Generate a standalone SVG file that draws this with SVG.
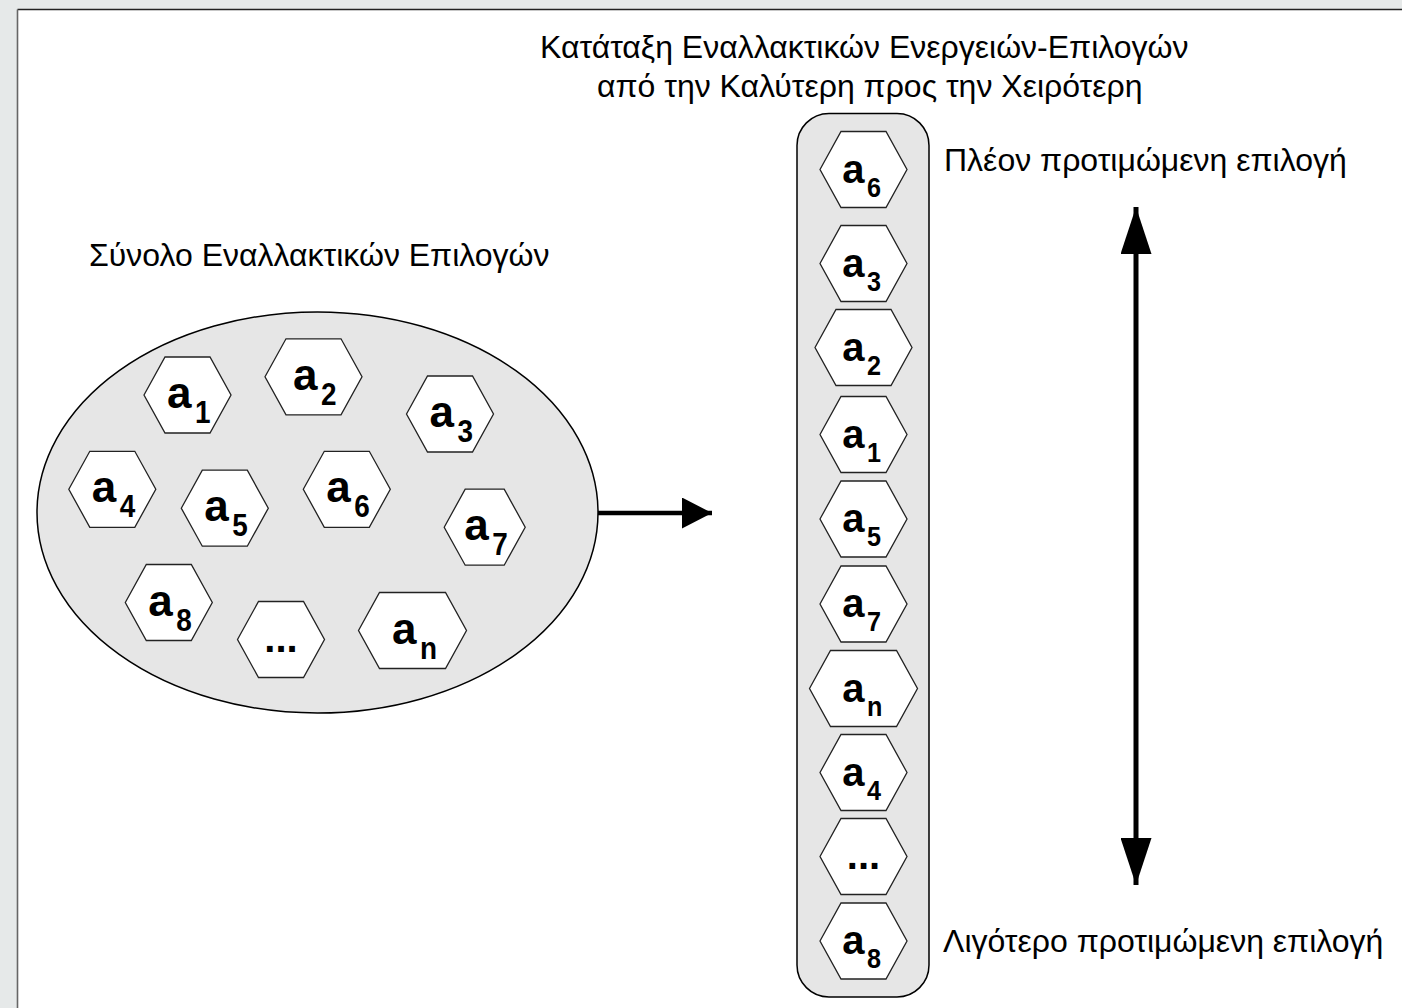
<svg xmlns="http://www.w3.org/2000/svg" width="1402" height="1008" viewBox="0 0 1402 1008">
  <style>
    .label { font-family: "Liberation Sans", Arial, sans-serif; font-size: 32px; fill: #000; }
    .hex { fill: #fff; stroke: #222; stroke-width: 1.3; }
    .sym, .sub, .dots { font-family: "Liberation Sans", Arial, sans-serif; font-weight: bold; fill: #000; }
    .sym { text-anchor: end; }
    .dots { text-anchor: middle; font-size: 40px; }
    .big .sym { font-size: 44px; }
    .col .sym { font-size: 40px; }
    .big .sub { font-size: 31px; }
    .col .sub { font-size: 28px; }
    .conn { stroke: #000; fill: none; }
  </style>
  <defs>
    <!-- hexagon outlines, centred on the origin -->
    <polygon id="hex81" points="-40.5,0 -19.5,-38 19.5,-38 40.5,0 19.5,38 -19.5,38"/>
    <polygon id="hex87" points="-43.5,0 -22.5,-38 22.5,-38 43.5,0 22.5,38 -22.5,38"/>
    <polygon id="hex97" points="-48.5,0 -27.5,-38 27.5,-38 48.5,0 27.5,38 -27.5,38"/>
    <polygon id="hex108" points="-54,0 -33,-38 33,-38 54,0 33,38 -33,38"/>
    <marker id="head" viewBox="0 0 30 31" refX="30" refY="15.5" markerWidth="30" markerHeight="31" markerUnits="userSpaceOnUse" orient="auto-start-reverse">
      <path d="M0,0 L30,15.5 L0,31 Z" fill="#000"/>
    </marker>
    <marker id="headTall" viewBox="0 0 47 31" refX="47" refY="15.5" markerWidth="47" markerHeight="31" markerUnits="userSpaceOnUse" orient="auto-start-reverse">
      <path d="M0,0 L47,15.5 L0,31 Z" fill="#000"/>
    </marker>
  </defs>

  <!-- page -->
  <rect x="0" y="0" width="1402" height="1008" fill="#e6e9e9"/>
  <rect x="17.5" y="9.5" width="1390" height="1004" fill="#fff"/>
  <line x1="17.5" y1="9.5" x2="1402" y2="9.5" stroke="#222" stroke-width="1.5"/>
  <line x1="17.5" y1="9.5" x2="17.5" y2="1008" stroke="#666" stroke-width="1.6"/>

  <!-- captions -->
  <text class="label" x="540" y="58">Κατάταξη Εναλλακτικών Ενεργειών-Επιλογών</text>
  <text class="label" x="597" y="97">από την Καλύτερη προς την Χειρότερη</text>
  <text class="label" x="89" y="265.5">Σύνολο Εναλλακτικών Επιλογών</text>
  <text class="label" x="944" y="171">Πλέον προτιμώμενη επιλογή</text>
  <text class="label" x="943" y="952">Λιγότερο προτιμώμενη επιλογή</text>

  <!-- containers -->
  <g id="set">
    <ellipse cx="317.5" cy="512.5" rx="280.5" ry="200.5" fill="#e6e6e6" stroke="#000" stroke-width="1.5"/>
  </g>
  <g id="ranking">
    <rect x="797" y="113.5" width="132" height="883.5" rx="32" ry="32" fill="#e6e6e6" stroke="#000" stroke-width="1.5"/>
  </g>

  <!-- connectors -->
  <g id="connectors">
    <line class="conn" x1="598" y1="513" x2="712" y2="513" stroke-width="4.5" marker-end="url(#head)"/>
    <line class="conn" x1="1136" y1="207" x2="1136" y2="885" stroke-width="5" marker-start="url(#headTall)" marker-end="url(#headTall)"/>
  </g>

  <!-- alternatives in the set -->
  <g class="big">
    <g id="set-a1" transform="translate(187.5,395)"><use href="#hex87" class="hex"/><text class="sym" x="4" y="13">a</text><text class="sub" transform="translate(7.5,28) scale(0.9,1)">1</text></g>
    <g id="set-a2" transform="translate(313.5,376.8)"><use href="#hex97" class="hex"/><text class="sym" x="4" y="13">a</text><text class="sub" transform="translate(7.5,28) scale(0.9,1)">2</text></g>
    <g id="set-a3" transform="translate(450,414)"><use href="#hex87" class="hex"/><text class="sym" x="4" y="13">a</text><text class="sub" transform="translate(7.5,28) scale(0.9,1)">3</text></g>
    <g id="set-a4" transform="translate(112.3,489.3)"><use href="#hex87" class="hex"/><text class="sym" x="4" y="13">a</text><text class="sub" transform="translate(7.5,28) scale(0.9,1)">4</text></g>
    <g id="set-a5" transform="translate(224.8,508.2)"><use href="#hex87" class="hex"/><text class="sym" x="4" y="13">a</text><text class="sub" transform="translate(7.5,28) scale(0.9,1)">5</text></g>
    <g id="set-a6" transform="translate(346.8,489.3)"><use href="#hex87" class="hex"/><text class="sym" x="4" y="13">a</text><text class="sub" transform="translate(7.5,28) scale(0.9,1)">6</text></g>
    <g id="set-a7" transform="translate(484.7,527.2)"><use href="#hex81" class="hex"/><text class="sym" x="4" y="13">a</text><text class="sub" transform="translate(7.5,28) scale(0.9,1)">7</text></g>
    <g id="set-a8" transform="translate(168.8,602.5)"><use href="#hex87" class="hex"/><text class="sym" x="4" y="13">a</text><text class="sub" transform="translate(7.5,28) scale(0.9,1)">8</text></g>
    <g id="set-more" transform="translate(281,639.5)"><use href="#hex87" class="hex"/><text class="dots" x="0" y="12.5">...</text></g>
    <g id="set-an" transform="translate(412.5,630.5)"><use href="#hex108" class="hex"/><text class="sym" x="4" y="13">a</text><text class="sub" transform="translate(7.5,28) scale(0.9,1)">n</text></g>
  </g>

  <!-- ranked alternatives, best at the top -->
  <g class="col">
    <g id="rank-a6" transform="translate(863.5,169.5)"><use href="#hex87" class="hex"/><text class="sym" x="1" y="13">a</text><text class="sub" transform="translate(3.5,27) scale(0.9,1)">6</text></g>
    <g id="rank-a3" transform="translate(863.5,263.5)"><use href="#hex87" class="hex"/><text class="sym" x="1" y="13">a</text><text class="sub" transform="translate(3.5,27) scale(0.9,1)">3</text></g>
    <g id="rank-a2" transform="translate(863.5,347.5)"><use href="#hex97" class="hex"/><text class="sym" x="1" y="13">a</text><text class="sub" transform="translate(3.5,27) scale(0.9,1)">2</text></g>
    <g id="rank-a1" transform="translate(863.5,434.5)"><use href="#hex87" class="hex"/><text class="sym" x="1" y="13">a</text><text class="sub" transform="translate(3.5,27) scale(0.9,1)">1</text></g>
    <g id="rank-a5" transform="translate(863.5,519)"><use href="#hex87" class="hex"/><text class="sym" x="1" y="13">a</text><text class="sub" transform="translate(3.5,27) scale(0.9,1)">5</text></g>
    <g id="rank-a7" transform="translate(863.5,604)"><use href="#hex87" class="hex"/><text class="sym" x="1" y="13">a</text><text class="sub" transform="translate(3.5,27) scale(0.9,1)">7</text></g>
    <g id="rank-an" transform="translate(863.5,688.5)"><use href="#hex108" class="hex"/><text class="sym" x="1" y="13">a</text><text class="sub" transform="translate(3.5,27) scale(0.9,1)">n</text></g>
    <g id="rank-a4" transform="translate(863.5,772.5)"><use href="#hex87" class="hex"/><text class="sym" x="1" y="13">a</text><text class="sub" transform="translate(3.5,27) scale(0.9,1)">4</text></g>
    <g id="rank-more" transform="translate(863.5,856.5)"><use href="#hex87" class="hex"/><text class="dots" x="0" y="12">...</text></g>
    <g id="rank-a8" transform="translate(863.5,941)"><use href="#hex87" class="hex"/><text class="sym" x="1" y="13">a</text><text class="sub" transform="translate(3.5,27) scale(0.9,1)">8</text></g>
  </g>
</svg>
